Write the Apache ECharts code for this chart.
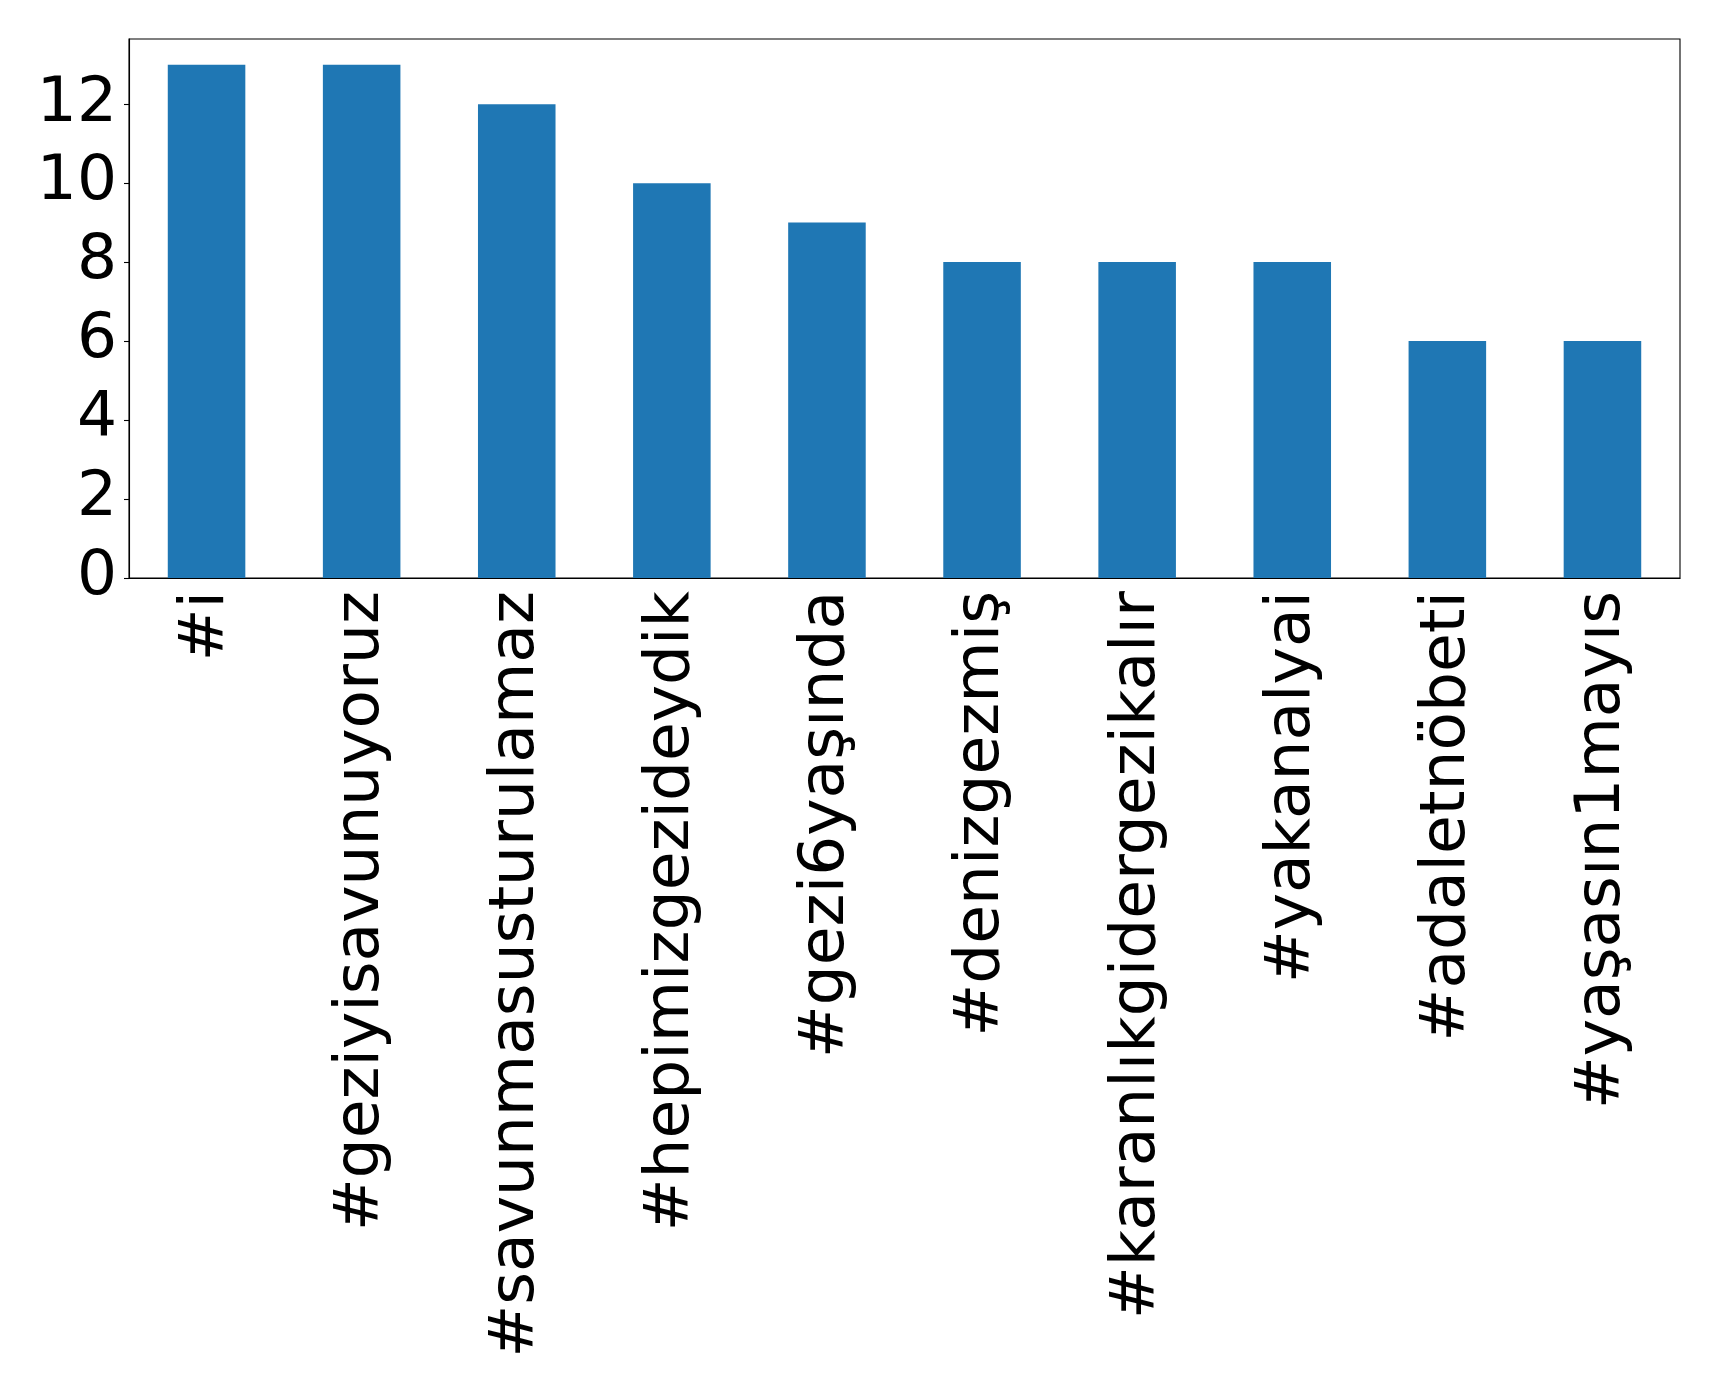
<!DOCTYPE html>
<html>
<head>
<meta charset="utf-8">
<script src="https://cdn.jsdelivr.net/npm/echarts@6/dist/echarts.min.js"></script>
<style>
html,body{margin:0;padding:0;background:#fff;}
#chart{width:1719px;height:1387px;}
</style>
</head>
<body>
<div id="chart"></div>
<script>
const categories = ["#i","#geziyisavunuyoruz","#savunmasusturulamaz","#hepimizgezideydik","#gezi6yaşında","#denizgezmiş","#karanlıkgidergezikalır","#yakanalyai","#adaletnöbeti","#yaşasın1mayıs"];
const values = [13,13,12,10,9,8,8,8,6,6];
const yTicks = [0,2,4,6,8,10,12];

const chart = echarts.init(document.getElementById('chart'), null, {renderer:'canvas'});
const font = "DejaVu Sans";
chart.setOption({
  animation:false,
  backgroundColor:'#ffffff',
  grid:{left:129,top:39,right:39,bottom:809,show:true,borderColor:'#000',borderWidth:1.1,containLabel:false,outerBoundsMode:'none'},
  xAxis:{
    type:'category',
    data:categories,
    boundaryGap:true,
    axisLine:{lineStyle:{color:'#000',width:1.1}},
    axisTick:{alignWithLabel:true,length:5,lineStyle:{color:'#000',width:1.1}},
    axisLabel:{rotate:90,margin:13,color:'#000',fontSize:63,fontFamily:font,interval:0}
  },
  yAxis:{
    type:'value',
    min:0,max:13.65,
    splitLine:{show:false},
    axisLine:{show:true,lineStyle:{color:'#000',width:1.1}},
    axisTick:{show:true,length:5,lineStyle:{color:'#000',width:1.1},customValues:yTicks},
    axisLabel:{color:'#000',fontSize:63,fontFamily:font,margin:12,customValues:yTicks}
  },
  series:[{
    type:'bar',
    data:values,
    barWidth:'50%',
    itemStyle:{color:'#1f77b4'}
  }]
});
</script>
</body>
</html>
